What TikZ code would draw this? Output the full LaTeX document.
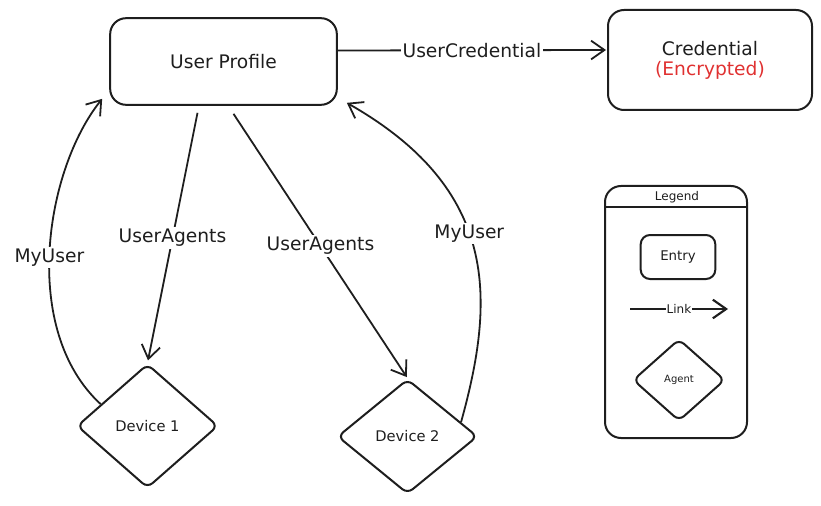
\documentclass[tikz,border=0pt]{standalone}
\usepackage{fontspec}
\setmainfont{DejaVu Sans}
\usetikzlibrary{arrows.meta,shapes.geometric,calc}

\definecolor{ink}{HTML}{1E1E1E}
\definecolor{encred}{HTML}{E03131}

\begin{document}
\begin{tikzpicture}[x=0.75pt, y=-0.75pt,
	>={Straight Barb[length=10pt,width=14pt]},
	entity/.style={draw=ink, line width=1.5pt, rounded corners=12pt, inner sep=0pt, text=ink, font=\fontsize{14}{15}\selectfont},
	agent/.style={draw=ink, line width=1.5pt, diamond, rounded corners=5pt, inner sep=0pt, text=ink, font=\fontsize{11}{13}\selectfont},
	link/.style={->, draw=ink, line width=1.35pt},
	lbl/.style={fill=white, inner sep=1.5pt, text=ink, font=\fontsize{14}{17}\selectfont}]
			\useasboundingbox (0,0) rectangle (821,506);
			\node (profile) at (223.5,61.5) [entity, minimum width=170pt, minimum height=65pt] {User Profile};
			\node (cred) at (710,60) [entity, minimum width=153pt, minimum height=75pt, align=center] {Credential\\\textcolor{encred}{(Encrypted)}};
			\node (dev1) at (147.5,426) [agent, minimum width=105.75pt, minimum height=93pt] {Device 1};
			\node (dev2) at (407.5,436.5) [agent, minimum width=105pt, minimum height=86pt] {Device 2};
			
			% legend
			\node (legend) at (676,312) [draw=ink, line width=1.5pt, rounded corners=12pt, minimum width=106.5pt, minimum height=189pt] {};
			\node (legendtitle) at (677,197) [text=ink, font=\fontsize{9}{11}\selectfont] {Legend};
			\draw [ink, line width=1.5pt] ($(legend.north west)+(0,22)$) -- ($(legend.north east)+(0,22)$);
			\node (entry) at (678,257) [entity, minimum width=56pt, minimum height=33pt, rounded corners=7pt, font=\fontsize{10}{12}\selectfont] {Entry};
			\coordinate (linkstart) at (630,309);
			\coordinate (linkend) at (728,309);
			\node (agent) at (679,380) [agent, minimum width=69pt, minimum height=61.5pt, font=\fontsize{7.5}{9}\selectfont] {Agent};
			
			\draw [link] ($(profile.east)+(0,-11)$) -- ($(cred.west)+(-1,-10)$) node [midway, lbl] {UserCredential};
			\draw [link, shorten >=2pt] ($(profile.south)+(-26,7)$) -- (dev1.north) node [midway, lbl] {UserAgents};
			\draw [link, shorten >=1pt] ($(profile.south)+(10,8)$) -- (dev2.north) node [midway, lbl] {UserAgents};
			\draw [link] (dev1.155) .. controls (20,330) and (45,170) .. ($(profile.south west)+(-7,-7)$) node [pos=0.48, lbl] {MyUser};
			\draw [link] (dev2.15) .. controls (495,300) and (500,190) .. ($(profile.south east)+(9,-3)$) node [pos=0.55, lbl] {MyUser};
			\draw [link, line width=1.6pt] (linkstart) -- (linkend) node [midway, lbl, inner sep=0.5pt, font=\fontsize{9}{11}\selectfont] {Link};
		\end{tikzpicture}
\end{document}
